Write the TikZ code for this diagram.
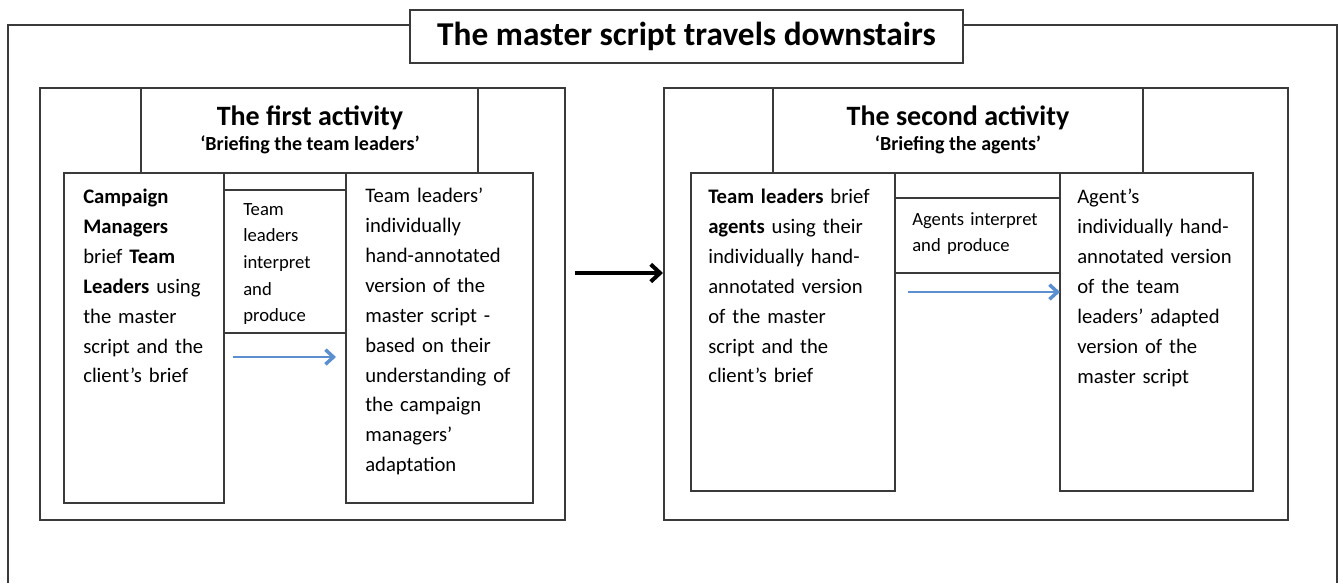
\documentclass[tikz,border=0pt]{standalone}
\usepackage{fontspec}
\setmainfont{Carlito}
\usepackage{xcolor}
\usepackage{tikz}
\definecolor{boxLine}{HTML}{3A3A3A}
\definecolor{flowBlue}{HTML}{5B8FD0}
\usetikzlibrary{arrows.meta,positioning,fit}

\begin{document}
\begin{tikzpicture}[
  x=0.75pt, y=-0.75pt,
  frame/.style={draw=boxLine, line width=1pt},
  box/.style={frame, inner sep=0pt, outer sep=0pt, fit={#1}},
  body/.style={font=\fontsize{15.5}{22.4}\selectfont, align=left, anchor=north west, inner sep=0pt, text width=6cm},
  small/.style={font=\fontsize{14}{20}\selectfont, align=left, anchor=north west, inner sep=0pt, text width=4cm},
  head/.style={font=\bfseries\fontsize{21}{24}\selectfont, inner sep=0pt},
  subhead/.style={font=\bfseries\fontsize{15}{18}\selectfont, inner sep=0pt},
  flow/.style={flowBlue, line width=1.1pt, -{Straight Barb[length=6pt, width=11pt, line width=2.6pt]}},
  bigflow/.style={black, line width=2.8pt, -{Straight Barb[length=7pt, width=13pt, line width=3pt]}}
]
\useasboundingbox (0,0) rectangle (1343,583);

% Title and the open outer frame
\node[frame, minimum width=414.75pt, minimum height=39.75pt, font=\bfseries\fontsize{25}{28}\selectfont] (title) at (686.5,36.5) {The master script travels downstairs};
\coordinate (top) at (0,25);
\draw[frame] (title.west |- top) -- (8,25) -- (8,583);
\draw[frame] (title.east |- top) -- (1337,25) -- (1337,583);

% First activity
\node[box={(40,88) (565,520)}] (act1) {};
\node[box={(141,88) (478,173)}] (head1) {};
\node[head] (name1) at (310,118) {The first activity};
\node[subhead] (sub1) at (310,145) {‘Briefing the team leaders’};
\node[box={(64,173) (224,503)}] (col1a) {};
\node[box={(224,173) (346,190)}] (strip1) {};
\node[box={(224,190) (346,333)}] (mid1) {};
\node[box={(346,173) (533,503)}] (col1c) {};

\node[body] (txt1a) at (83,189) {\textbf{Campaign}\\ \textbf{Managers}\\ brief \textbf{Team}\\ \textbf{Leaders} using\\ the master\\ script and the\\ client’s brief};
\node[small] (txt1b) at (243,203) {Team\\ leaders\\ interpret\\ and\\ produce};
\node[body] (txt1c) at (365,188) {Team leaders’\\ individually\\ hand-annotated\\ version of the\\ master script -\\ based on their\\ understanding of\\ the campaign\\ managers’\\ adaptation};

\coordinate (ar1) at (0,357);
\draw[flow] ([xshift=6.75pt]col1a.east |- ar1) -- ([xshift=-7.5pt]col1c.west |- ar1);

% Second activity
\node[box={(664,88) (1288,520)}] (act2) {};
\node[box={(773,88) (1143,173)}] (head2) {};
\node[head] (name2) at (958,118) {The second activity};
\node[subhead] (sub2) at (958,145) {‘Briefing the agents’};
\node[box={(691,173) (895,491)}] (col2a) {};
\node[box={(895,173) (1060,198)}] (strip2) {};
\node[box={(895,198) (1060,273)}] (mid2) {};
\node[box={(1060,173) (1253,491)}] (col2c) {};

\node[body] (txt2a) at (708,189) {\textbf{Team leaders} brief\\ \textbf{agents} using their\\ individually hand-\\ annotated version\\ of the master\\ script and the\\ client’s brief};
\node[small] (txt2b) at (912,212) {Agents interpret\\ and produce};
\node[body] (txt2c) at (1077,189) {Agent’s\\ individually hand-\\ annotated version\\ of the team\\ leaders’ adapted\\ version of the\\ master script};

\coordinate (ar2) at (0,292);
\draw[flow] ([xshift=9.75pt]col2a.east |- ar2) -- (col2c.west |- ar2);

% Between the activities
\coordinate (blk) at (0,273);
\draw[bigflow] ([xshift=7.5pt]act1.east |- blk) -- ([xshift=-0.75pt]act2.west |- blk);

\end{tikzpicture}
\end{document}
